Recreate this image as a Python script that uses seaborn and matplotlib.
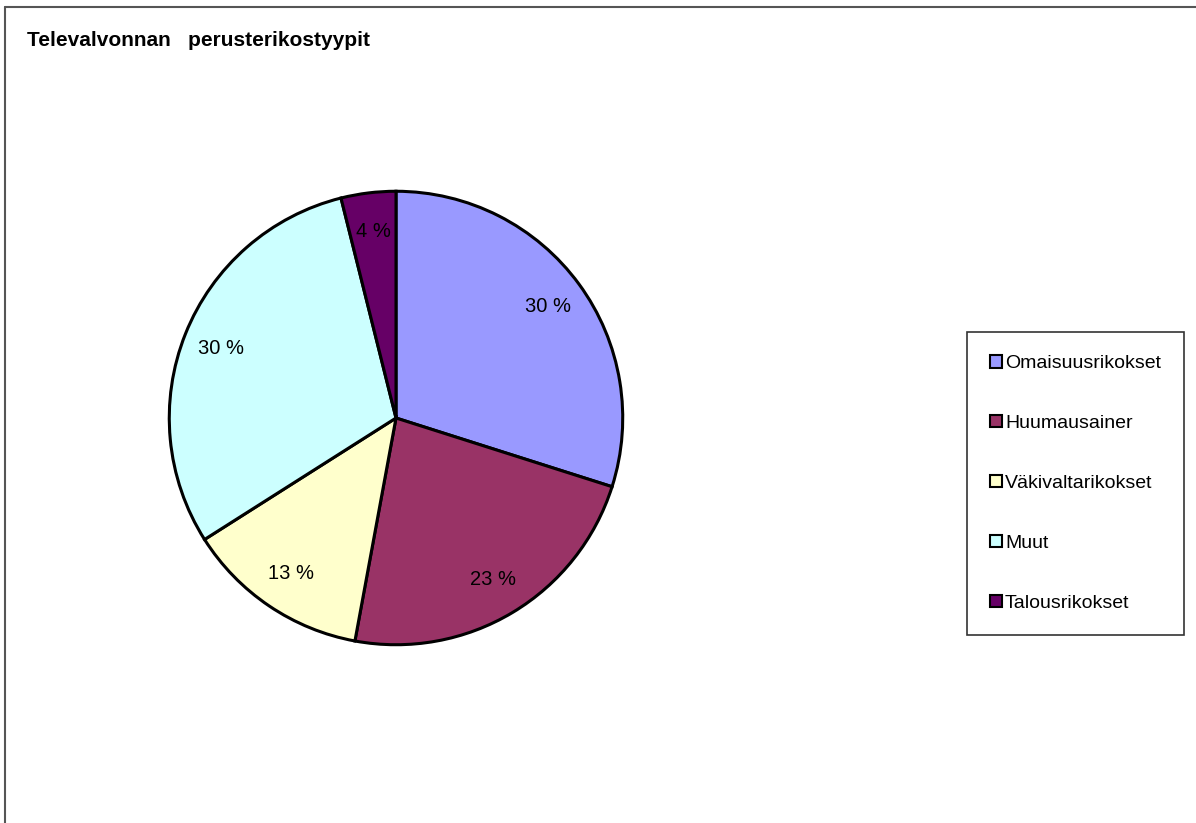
import numpy as np
import matplotlib
matplotlib.use("Agg")
import matplotlib.pyplot as plt
from matplotlib.lines import Line2D
from matplotlib.patches import Patch
import seaborn as sns

# chart data
categories = ['Omaisuusrikokset', 'Huumausainer', 'Väkivaltarikokset', 'Muut', 'Talousrikokset']
shares = [29.9, 23.0, 13.1, 30.1, 3.9]
colors = ['#9999FF', '#993366', '#FFFFCC', '#CCFFFF', '#660066']
title = 'Televalvonnan   perusterikostyypit'

sns.set_style("white")
plt.rcParams['font.family'] = ['Liberation Sans', 'DejaVu Sans']
plt.rcParams['text.color'] = 'black'

W, H = 1196, 823
fig = plt.figure(figsize=(W / 100, H / 100), dpi=100)

# pie axes: center (396, 418) px, radius ~229 px
cx, cy, r = 396, 418, 229
ax = fig.add_axes([(cx - r) / W, (H - cy - r) / H, 2 * r / W, 2 * r / H])
wedges, texts, autotexts = ax.pie(
    shares, colors=colors, startangle=90, counterclock=False,
    autopct=lambda p: '%.0f %%' % p, pctdistance=0.83,
    wedgeprops=dict(edgecolor='black', linewidth=2.2),
    textprops=dict(fontsize=14.5, color='black'))
ax.set_xlim(-1.01, 1.01)
ax.set_ylim(-1.01, 1.01)
ax.set_aspect('equal')
ax.axis('off')

# title
fig.text(27 / W, 1 - 41 / H, title, fontsize=15, fontweight='bold',
         color='black', va='center', ha='left')

# legend
handles = [Patch(facecolor=c, edgecolor='black', linewidth=1.5) for c in colors]
leg = fig.legend(handles, categories, loc='upper left',
                 bbox_to_anchor=(967 / W, 1 - 332 / H),
                 fontsize=14, frameon=True, fancybox=False, edgecolor='black',
                 labelspacing=2.2, handlelength=0.6, handleheight=0.6,
                 handletextpad=0.15, borderpad=1.2, borderaxespad=0,
                 labelcolor='black')
leg.get_frame().set_linewidth(1.2)

# outer border (top and left only)
fig.add_artist(Line2D([5 / W, 1], [1 - 7 / H, 1 - 7 / H], color='#555555', linewidth=1.5))
fig.add_artist(Line2D([5 / W, 5 / W], [0, 1 - 7 / H], color='#555555', linewidth=1.5))

fig.savefig('out.png', dpi=100)
